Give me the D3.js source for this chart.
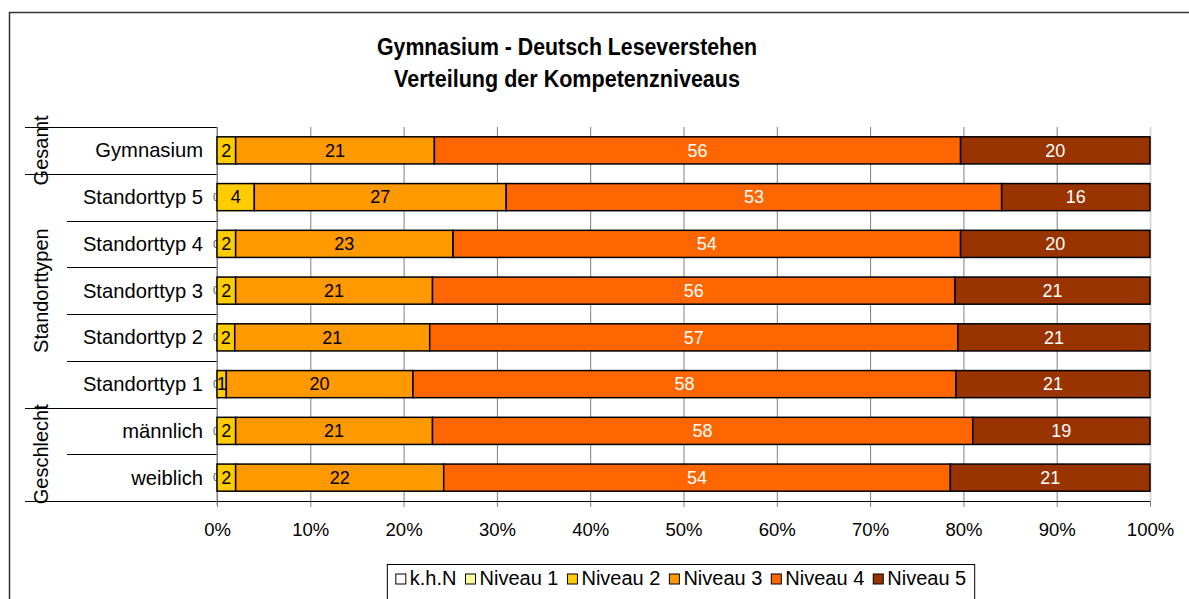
<!DOCTYPE html>
<html>
<head>
<meta charset="utf-8">
<script src="https://cdn.jsdelivr.net/npm/d3@7"></script>
<style>
  body { margin: 0; background: #fff; }
  svg { display: block; font-family: "Liberation Sans", Arial, sans-serif; }
</style>
</head>
<body>
<div id="container"></div>
<script>
// ---------------------------- DATA ----------------------------//
var titleLines = ["Gymnasium - Deutsch Leseverstehen", "Verteilung der Kompetenzniveaus"];
var categories = ["Gymnasium", "Standorttyp 5", "Standorttyp 4", "Standorttyp 3",
                  "Standorttyp 2", "Standorttyp 1", "männlich", "weiblich"];
var groups = ["Gesamt", "Standorttypen", "Geschlecht"];
var groupSizes = [1, 5, 2];
var seriesNames = ["k.h.N", "Niveau 1", "Niveau 2", "Niveau 3", "Niveau 4", "Niveau 5"];
var seriesColors = ["#ffffff", "#ffff99", "#ffcc00", "#ff9900", "#ff6600", "#993300"];
var labelColors = ["#000", "#000", "#000", "#000", "#fff", "#fff"];

// percentages (labels are rounded)
var khN     = [null, 0, 0, 0, 0, 0, 0, 0];
var niveau1 = [null, null, null, null, null, null, null, null];
var niveau2 = [2.0, 4.0, 2.0, 2.0, 1.9, 1.0, 2.0, 2.0];
var niveau3 = [21.3, 27.0, 23.3, 21.1, 20.9, 20.0, 21.1, 22.3];
var niveau4 = [56.4, 53.1, 54.4, 56.0, 56.6, 58.2, 57.9, 54.3];
var niveau5 = [20.3, 15.9, 20.3, 20.9, 20.6, 20.8, 19.0, 21.4];
var xTicks = [0, 10, 20, 30, 40, 50, 60, 70, 80, 90, 100];

var allSeries = [khN, niveau1, niveau2, niveau3, niveau4, niveau5];

// ---------------------------- LAYOUT ----------------------------//
const width = 1189;
const height = 599;
const plot = {left: 217, right: 1150, top: 127, bottom: 501};

const svg = d3.select("div#container").append("svg")
    .attr("width", width)
    .attr("height", height);

// outer chart frame (runs off the picture right and bottom)
svg.append("path")
    .attr("d", "M9.5," + (height + 5) + "V12.5H" + (width + 5))
    .attr("fill", "none")
    .attr("stroke", "#333")
    .attr("stroke-width", 1.5);

// title
svg.append("g").selectAll("text")
    .data(titleLines)
    .enter().append("text")
    .attr("x", 567)
    .attr("y", function(d, i) { return 55 + i * 32; })
    .attr("text-anchor", "middle")
    .attr("font-size", 23)
    .attr("font-weight", "bold")
    .attr("textLength", function(d, i) { return i == 0 ? 380 : 346; })
    .attr("lengthAdjust", "spacingAndGlyphs")
    .text(function(d) { return d; });

// ---------------------------- SCALES ----------------------------//
const xScale = d3.scaleLinear().domain([0, 100]).range([plot.left, plot.right]);
const yScale = d3.scaleBand().domain(categories)
    .range([plot.top, plot.bottom])
    .paddingInner(0.42).paddingOuter(0.21);
const step = yScale.step();

// gridlines
svg.append("g")
    .attr("transform", "translate(0," + plot.bottom + ")")
    .call(d3.axisBottom(xScale).tickValues(xTicks).tickSize(-(plot.bottom - plot.top)).tickFormat(""))
    .call(function(g) { g.select(".domain").remove(); })
    .call(function(g) {
      g.selectAll("line")
        .attr("stroke", function(d) { return d == 100 ? "#d9d9d9" : "#808080"; })
        .attr("stroke-width", function(d) { return d == 100 ? 2 : 1; });
    });

// x axis ticks + labels
svg.append("g")
    .attr("transform", "translate(0," + plot.bottom + ")")
    .call(d3.axisBottom(xScale).tickValues(xTicks).tickSize(6).tickPadding(16)
      .tickFormat(function(d) { return d + "%"; }))
    .call(function(g) { g.select(".domain").remove(); })
    .call(function(g) {
      g.selectAll("line").attr("stroke", "#808080");
      g.selectAll("text")
        .attr("font-size", 18.5)
        .attr("font-family", "Liberation Sans, Arial, sans-serif")
        .attr("fill", "#000");
    });

// category box lines
var boundaries = [];
var acc = 0;
var groupStarts = [0];
groupSizes.forEach(function(n) { acc += n; groupStarts.push(acc); });
for (var i = 0; i <= categories.length; i++) {
  boundaries.push({i: i, group: groupStarts.indexOf(i) >= 0});
}
svg.append("g").selectAll("line")
    .data(boundaries)
    .enter().append("line")
    .attr("x1", function(d) { return d.group ? 25 : 67; })
    .attr("x2", function(d) { return d.i == categories.length ? plot.right : plot.left; })
    .attr("y1", function(d) { return Math.round(plot.top + d.i * step) + 0.5; })
    .attr("y2", function(d) { return Math.round(plot.top + d.i * step) + 0.5; })
    .attr("stroke", "#000")
    .attr("stroke-width", 1);

svg.append("line")
    .attr("x1", plot.left).attr("x2", plot.left)
    .attr("y1", plot.top).attr("y2", plot.bottom + 4)
    .attr("stroke", "#808080");

// group labels (rotated)
svg.append("g").selectAll("text")
    .data(groups)
    .enter().append("text")
    .attr("transform", function(d, i) {
      var cy = plot.top + (groupStarts[i] + groupStarts[i + 1]) / 2 * step;
      return "translate(48," + cy + ") rotate(-90)";
    })
    .attr("text-anchor", "middle")
    .attr("font-size", 20)
    .text(function(d) { return d; });

// category labels
svg.append("g").selectAll("text")
    .data(categories)
    .enter().append("text")
    .attr("x", 203)
    .attr("y", function(d) { return yScale(d) + yScale.bandwidth() / 2; })
    .attr("dy", "0.35em")
    .attr("text-anchor", "end")
    .attr("font-size", 20.2)
    .text(function(d) { return d; });

// ---------------------------- BARS ----------------------------//
var segments = [];
categories.forEach(function(c, ci) {
  var x0 = 0;
  allSeries.forEach(function(s, si) {
    var v = s[ci];
    if (v === null) return;
    segments.push({cat: c, series: si, x0: x0, x1: x0 + v, value: v});
    x0 += v;
  });
});

// zero labels sit behind the bars
svg.append("g").selectAll("text")
    .data(segments.filter(function(d) { return d.value == 0; }))
    .enter().append("text")
    .attr("x", function(d) { return xScale(d.x0) - 1; })
    .attr("y", function(d) { return yScale(d.cat) + yScale.bandwidth() / 2; })
    .attr("dy", "0.35em")
    .attr("text-anchor", "middle")
    .attr("font-size", 11)
    .attr("fill", "#555")
    .text("0");

svg.append("g").selectAll("rect")
    .data(segments.filter(function(d) { return d.value > 0; }))
    .enter().append("rect")
    .attr("x", function(d) { return xScale(d.x0); })
    .attr("width", function(d) { return xScale(d.x1) - xScale(d.x0); })
    .attr("y", function(d) { return yScale(d.cat); })
    .attr("height", yScale.bandwidth())
    .attr("fill", function(d) { return seriesColors[d.series]; })
    .attr("stroke", "#000")
    .attr("stroke-width", 1.5);

svg.append("g").selectAll("text")
    .data(segments.filter(function(d) { return d.value > 0; }))
    .enter().append("text")
    .attr("x", function(d) { return (xScale(d.x0) + xScale(d.x1)) / 2; })
    .attr("y", function(d) { return yScale(d.cat) + yScale.bandwidth() / 2; })
    .attr("dy", "0.35em")
    .attr("text-anchor", "middle")
    .attr("font-size", 18)
    .attr("fill", function(d) { return labelColors[d.series]; })
    .text(function(d) { return Math.round(d.value); });

// ---------------------------- LEGEND ----------------------------//
const legend = svg.append("g");
var lx = 0;
var gap = 9;
var items = legend.selectAll("g")
    .data(seriesNames)
    .enter().append("g");
items.append("rect")
    .attr("width", 10).attr("height", 10)
    .attr("y", -11)
    .attr("fill", function(d, i) { return seriesColors[i]; })
    .attr("stroke", "#000");
items.append("text")
    .attr("x", 14)
    .attr("font-size", 20)
    .text(function(d) { return d; });
items.each(function() {
  d3.select(this).attr("transform", "translate(" + lx + ",0)");
  lx += 14 + d3.select(this).select("text").node().getComputedTextLength() + gap;
});
lx -= gap;
var legendLeft = 681 - lx / 2;
legend.attr("transform", "translate(" + legendLeft + ",585)");
svg.append("rect")
    .attr("x", legendLeft - 8.5)
    .attr("y", 564.5)
    .attr("width", lx + 17)
    .attr("height", 50)
    .attr("fill", "none")
    .attr("stroke", "#000");
</script>
</body>
</html>
